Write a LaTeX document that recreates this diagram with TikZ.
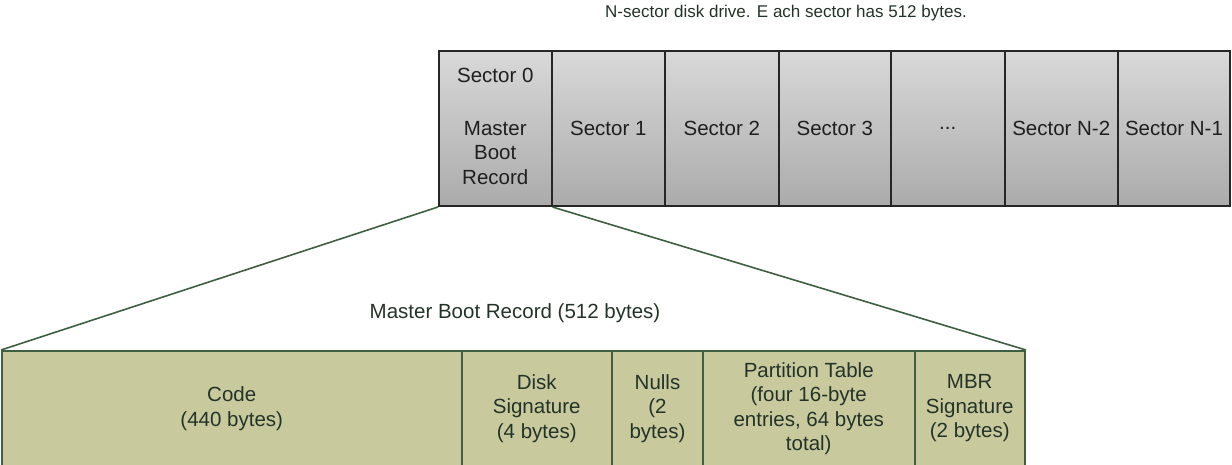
\documentclass[tikz,border=0pt]{standalone}
\usepackage{fontspec}
\setmainfont{Liberation Sans}
\begin{document}
\begin{tikzpicture}[x=1pt,y=-1pt,
  sectorbox/.style={draw=black!85, line width=2pt, top color=black!15, bottom color=black!33,
    minimum height=155pt, inner sep=0pt, align=center, text=black!88,
    font=\fontsize{20.5}{24.5}\selectfont},
  mbrbox/.style={draw=mbrline, line width=2pt, fill=mbrfill,
    minimum height=115pt, inner sep=0pt, align=center, text=txtdark,
    font=\fontsize{20.5}{24.5}\selectfont},
  caption/.style={inner sep=0pt, text=txtdark, font=\fontsize{20.5}{24.5}\selectfont},
  link/.style={draw=mbrline, line width=1.6pt}]
\definecolor{mbrfill}{HTML}{C8C99D}
\definecolor{mbrline}{HTML}{3F5F42}
\definecolor{txtdark}{HTML}{243328}
\useasboundingbox (0,0) rectangle (1232,464);
\node[caption, font=\fontsize{17}{20}\selectfont] (top) at (786,13) {N-sector disk drive. E ach sector has 512 bytes.};
\node[sectorbox, minimum width=112.5pt] (s0) at (495.25,128.5) {};
\node[text=black!88, font=\fontsize{20.5}{24.5}\selectfont, inner sep=0pt] (s0a) at (495.25,75) {Sector 0};
\node[text=black!88, font=\fontsize{20.5}{24.5}\selectfont, inner sep=0pt, align=center] (s0b) at (495.25,153) {Master\\Boot\\Record};
\node[sectorbox, minimum width=113.5pt] (s1) at (608.25,128.5) {Sector 1};
\node[sectorbox, minimum width=113.5pt] (s2) at (721.75,128.5) {Sector 2};
\node[sectorbox, minimum width=112.5pt] (s3) at (834.75,128.5) {Sector 3};
\node[sectorbox, minimum width=113.5pt] (s4) at (947.75,128.5) {...};
\node[sectorbox, minimum width=113.5pt] (s5) at (1061.25,128.5) {Sector N-2};
\node[sectorbox, minimum width=112pt] (s6) at (1174,128.5) {Sector N-1};
\node[caption] (mbrcap) at (515,313) {Master Boot Record (512 bytes)};
\node[mbrbox, minimum width=459.5pt] (code) at (231.75,408.5) {Code\\(440 bytes)};
\node[mbrbox, minimum width=150.5pt] (disk) at (536.75,408.5) {Disk\\Signature\\(4 bytes)};
\node[mbrbox, minimum width=91pt] (nulls) at (657.5,408.5) {Nulls\\(2\\bytes)};
\node[mbrbox, minimum width=211.5pt] (part) at (808.75,408.5) {Partition Table\\(four 16-byte\\entries, 64 bytes\\total)};
\node[mbrbox, minimum width=110.5pt] (mbr) at (969.75,408.5) {MBR\\Signature\\(2 bytes)};
\draw[link] (s0.south west) -- (code.north west);
\draw[link] (s0.south east) -- (mbr.north east);
\end{tikzpicture}
\end{document}
